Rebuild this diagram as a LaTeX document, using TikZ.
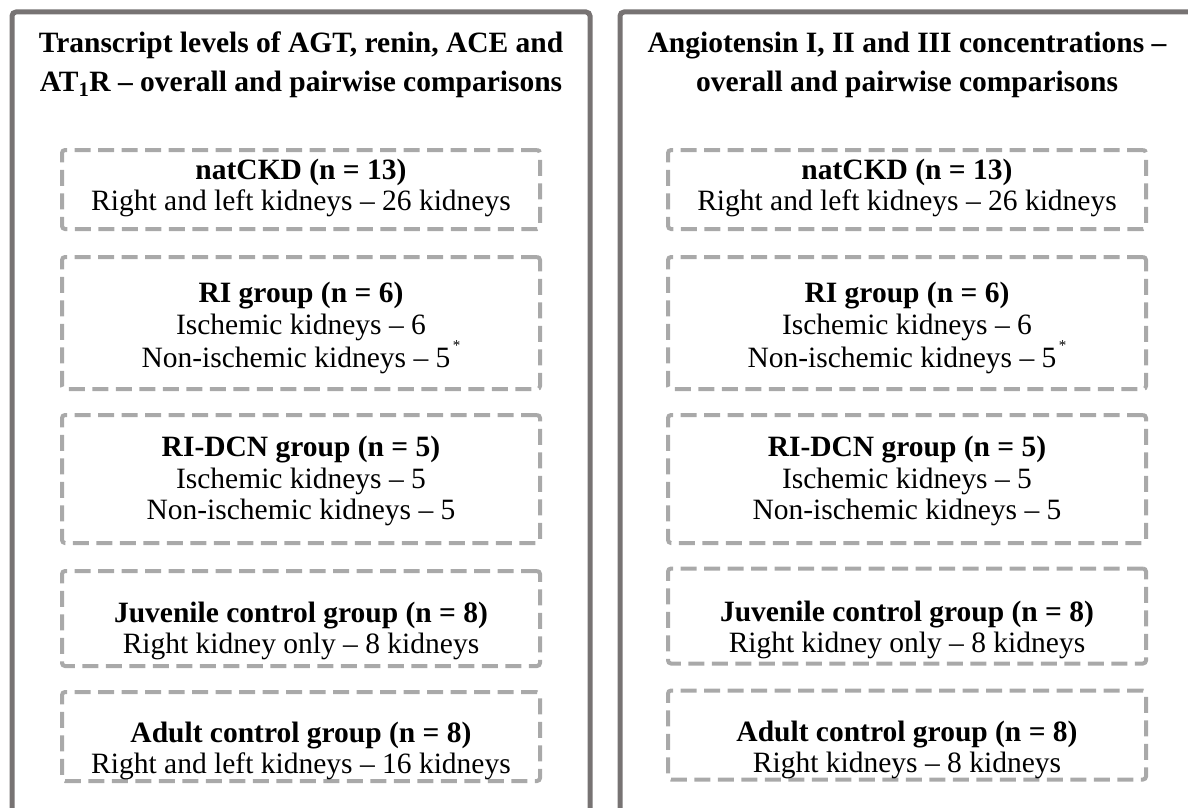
\documentclass[tikz,border=0pt]{standalone}
\usepackage{fontspec}
\setmainfont{Liberation Serif}
\usepackage{xcolor}
\usetikzlibrary{positioning}

\definecolor{panelgray}{HTML}{777373}
\definecolor{dashgray}{HTML}{A9A9A9}

\newcommand{\astmark}{\smash{\raisebox{17pt}{\fontsize{15}{15}\selectfont\,*}}}

\begin{document}
\begin{tikzpicture}[
    x=1pt, y=-1pt,
    panel/.style={draw=panelgray, line width=5pt, rounded corners=4pt},
    grp/.style={rectangle, draw=dashgray, line width=4pt, dash pattern=on 16pt off 7.5pt, rounded corners=3pt, minimum width=478pt},
    txt/.style={align=center, inner sep=0pt, font=\fontsize{29.5}{31.5}\selectfont},
    ttl/.style={align=center, inner sep=0pt, font=\fontsize{29.5}{39}\selectfont\bfseries}
]
\useasboundingbox (0,0) rectangle (1188,808);

% outer panels
\coordinate (lpbl) at (12,830);
\coordinate (lptl) at (12,12);
\coordinate (lptr) at (590,12);
\coordinate (lpbr) at (590,830);
\coordinate (rpbl) at (620,830);
\coordinate (rptl) at (620,12);
\coordinate (rptr) at (1200,12);
\draw[panel] (lpbl) -- (lptl) -- (lptr) -- (lpbr);
\draw[panel] (rpbl) -- (rptl) -- (rptr);

% titles
\node[ttl] (ltitle) at (301,65) {Transcript levels of AGT, renin, ACE and\\AT\textsubscript{1}R – overall and pairwise comparisons};
\node[ttl] (rtitle) at (907,65) {Angiotensin I, II and III concentrations –\\overall and pairwise comparisons};

% left column
\node[grp, minimum height=79pt] (l1) at (301,189.5) {};
\node[grp, minimum height=132pt] (l2) at (301,323) {};
\node[grp, minimum height=128pt] (l3) at (301,479) {};
\node[grp, minimum height=95pt] (l4) at (301,618.5) {};
\node[grp, minimum height=89pt] (l5) at (301,736.5) {};

\node[txt] (l1t) at (301,188) {\textbf{natCKD (n = 13)}\\Right and left kidneys – 26 kidneys};
\node[txt] (l2t) at (301,328) {\textbf{RI group (n = 6)}\\Ischemic kidneys – 6\\[2pt]Non-ischemic kidneys – 5\astmark};
\node[txt] (l3t) at (301,481) {\textbf{RI-DCN group (n = 5)}\\Ischemic kidneys – 5\\Non-ischemic kidneys – 5};
\node[txt] (l4t) at (301,631) {\textbf{Juvenile control group (n = 8)}\\Right kidney only – 8 kidneys};
\node[txt] (l5t) at (301,751) {\textbf{Adult control group (n = 8)}\\Right and left kidneys – 16 kidneys};

% right column
\node[grp, minimum height=79pt] (r1) at (907,189.5) {};
\node[grp, minimum height=132pt] (r2) at (907,323) {};
\node[grp, minimum height=128pt] (r3) at (907,479) {};
\node[grp, minimum height=95pt] (r4) at (907,616) {};
\node[grp, minimum height=89pt] (r5) at (907,735) {};

\node[txt] (r1t) at (907,188) {\textbf{natCKD (n = 13)}\\Right and left kidneys – 26 kidneys};
\node[txt] (r2t) at (907,328) {\textbf{RI group (n = 6)}\\Ischemic kidneys – 6\\[2pt]Non-ischemic kidneys – 5\astmark};
\node[txt] (r3t) at (907,481) {\textbf{RI-DCN group (n = 5)}\\Ischemic kidneys – 5\\Non-ischemic kidneys – 5};
\node[txt] (r4t) at (907,630) {\textbf{Juvenile control group (n = 8)}\\Right kidney only – 8 kidneys};
\node[txt] (r5t) at (907,750) {\textbf{Adult control group (n = 8)}\\Right kidneys – 8 kidneys};

\end{tikzpicture}
\end{document}
